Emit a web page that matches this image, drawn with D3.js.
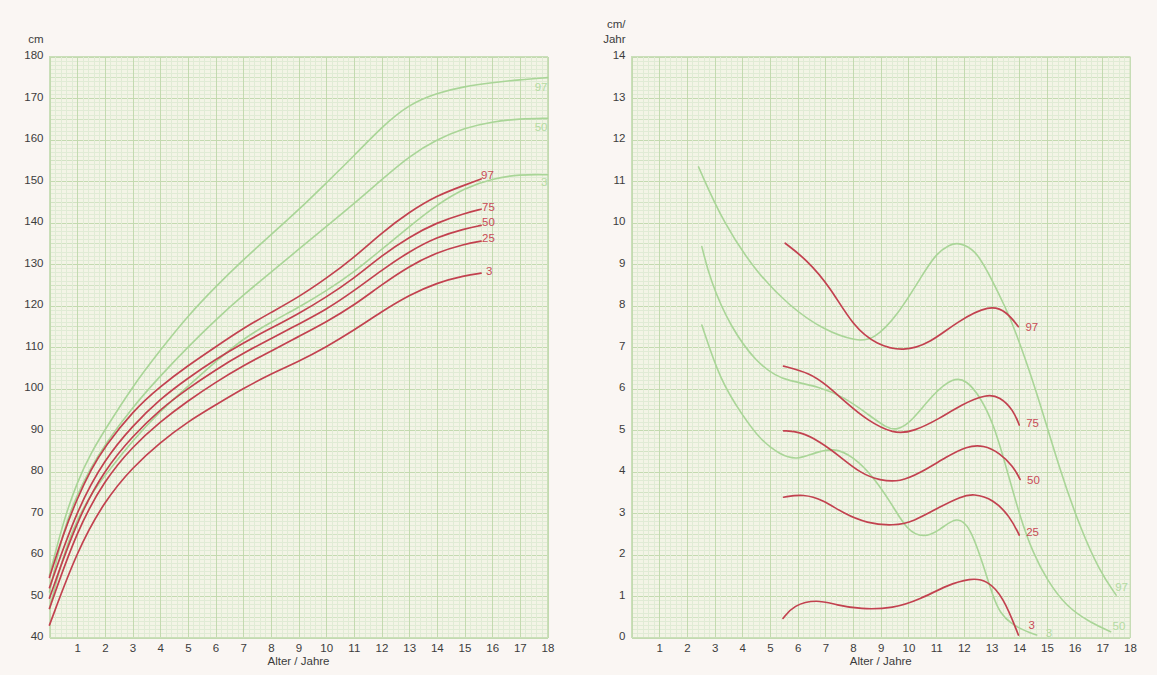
<!DOCTYPE html>
<html>
<head>
<meta charset="utf-8">
<script src="https://cdn.jsdelivr.net/npm/d3@7"></script>
<style>
  html, body { margin: 0; padding: 0; background: #faf6f3; }
  svg { display: block; }
  text { font-family: "Liberation Sans", Arial, sans-serif; }
</style>
</head>
<body>
<svg id="chart" width="1157" height="675"></svg>
<script>
// ---- Körperhöhe (cm) nach Alter (Jahre) ----
// Referenzperzentilen (grün)
const heightRef97 = [[0,55],[0.5,68],[1,77.5],[1.5,84.5],[2,90],[3,100.5],[4,109.2],[5,117.5],[6,124.5],[7,131],[8,137],[9,143],[10,149.5],[11,156],[12,163],[13,168.5],[14,171.2],[15,172.8],[16,173.7],[17,174.4],[18,174.9]];
const heightRef50 = [[0,51],[0.5,66],[1,74.5],[1.5,81],[2,86.5],[3,95.5],[4,103],[5,110],[6,116.5],[7,122.5],[8,128],[9,133.5],[10,139],[11,144.5],[12,150.3],[13,156],[14,160],[15,162.8],[16,164.3],[17,165],[18,165.1]];
const heightRef3  = [[0,47],[0.5,60],[1,68.5],[1.5,74.5],[2,79],[3,87.5],[4,94.5],[5,100.5],[6,106.5],[7,112],[8,116],[9,119.5],[10,123.5],[11,128],[12,133.5],[13,139],[14,144.3],[15,148.3],[16,150.6],[17,151.6],[18,151.5]];
// Perzentilen der Patientengruppe (rot)
const height97 = [[0,54.5],[0.5,65],[1,73.5],[1.5,80.5],[2,86],[3,94.5],[4,100.5],[5,105.5],[6,110],[7,114.5],[8,118.3],[9,122],[10,126.5],[11,131.5],[12,137.5],[13,142.5],[14,146.5],[15,149],[15.6,150.5]];
const height75 = [[0,52],[1,71],[2,83],[3,91],[4,97.5],[5,102.5],[6,107],[7,111],[8,114.5],[9,118],[10,122],[11,126.5],[12,132],[13,136.5],[14,140],[15,142.2],[15.6,143.2]];
const height50 = [[0,49.5],[1,68.5],[2,80.5],[3,88.5],[4,95],[5,100],[6,104.5],[7,108.5],[8,112],[9,115.5],[10,119],[11,123.5],[12,128.5],[13,133],[14,136.5],[15,138.5],[15.6,139.3]];
const height25 = [[0,47],[1,66],[2,78],[3,86],[4,92],[5,97],[6,101.5],[7,105.5],[8,109],[9,112.5],[10,116],[11,120],[12,125],[13,129.5],[14,132.8],[15,134.8],[15.6,135.5]];
const height3  = [[0,43],[1,61],[2,73],[3,81],[4,87],[5,92],[6,96],[7,100],[8,103.5],[9,106.5],[10,110],[11,114],[12,118.5],[13,122.5],[14,125.5],[15,127.2],[15.6,127.8]];

// ---- Wachstumsgeschwindigkeit (cm/Jahr) nach Alter ----
const velRef97 = [[2.42,11.34],[3.32,9.98],[4.53,8.78],[5.73,7.97],[6.93,7.41],[8.14,7.13],[8.74,7.18],[9.58,7.73],[10.54,8.78],[11.0,9.25],[11.5,9.47],[11.75,9.5],[12.0,9.47],[12.47,9.3],[13.07,8.55],[13.5,7.95],[13.8,7.5],[14.6,6.0],[15.48,4.0],[16.2,2.65],[16.9,1.6],[17.5,1.02]];
const velRef50 = [[2.54,9.42],[2.84,8.61],[3.56,7.49],[4.53,6.61],[5.25,6.3],[5.6,6.2],[6.81,6.04],[7.65,5.8],[8.5,5.4],[9.22,5.04],[9.58,5.0],[10.06,5.16],[10.9,5.88],[11.62,6.27],[12.1,6.2],[12.59,5.8],[13.07,5.16],[13.55,4.06],[14.03,2.9],[14.5,2.03],[15.0,1.39],[15.7,0.74],[16.6,0.35],[17.3,0.14]];
const velRef3  = [[2.54,7.53],[3.2,6.2],[4.0,5.36],[4.65,4.76],[5.37,4.4],[5.97,4.28],[6.57,4.44],[7.29,4.58],[8.01,4.36],[8.74,3.87],[9.46,3.15],[9.94,2.59],[10.54,2.39],[11.14,2.59],[11.75,2.93],[12.23,2.67],[12.7,1.75],[13.07,0.95],[13.31,0.6],[13.67,0.34],[14.27,0.14],[14.63,0.06]];
const vel97 = [[5.55,9.5],[6.33,9.1],[7.17,8.45],[8.01,7.49],[8.86,7.05],[9.82,6.89],[10.78,7.09],[11.75,7.61],[12.95,8.03],[13.55,7.85],[13.97,7.49]];
const vel75 = [[5.49,6.54],[6.45,6.37],[7.05,6.08],[7.78,5.64],[8.5,5.24],[9.46,4.9],[10.18,4.96],[11.14,5.28],[11.87,5.6],[12.83,5.87],[13.3,5.8],[13.79,5.48],[14.0,5.12]];
const vel50 = [[5.49,4.98],[6.09,4.96],[6.81,4.72],[7.53,4.36],[8.26,3.96],[8.98,3.78],[9.7,3.75],[10.42,3.96],[11.39,4.36],[12.1,4.61],[12.71,4.64],[13.31,4.44],[13.79,4.12],[14.03,3.81]];
const vel25 = [[5.49,3.38],[6.21,3.46],[6.93,3.31],[7.65,2.99],[8.5,2.75],[9.46,2.69],[10.18,2.79],[11.14,3.15],[11.87,3.39],[12.35,3.47],[13.07,3.33],[13.67,2.91],[14.0,2.47]];
const vel3  = [[5.47,0.46],[5.85,0.78],[6.69,0.92],[7.42,0.78],[8.26,0.68],[9.46,0.70],[10.42,0.92],[11.39,1.26],[12.23,1.43],[12.83,1.39],[13.43,0.98],[13.97,0.06]];

// Achsenbeschriftung
const ageTicks = [1,2,3,4,5,6,7,8,9,10,11,12,13,14,15,16,17,18];
const heightTicks = [40,50,60,70,80,90,100,110,120,130,140,150,160,170,180];
const velTicks = [0,1,2,3,4,5,6,7,8,9,10,11,12,13,14];
const xTitle = "Alter / Jahre";

const svg = d3.select("#chart");
const GREEN = "#a9d597", RED = "#c2414f";
const GREEN_TXT = "#b4dba3", RED_TXT = "#c84b57";

function panel(opts) {
  const { x, y, yMinor, yMid, yMajor, xSub } = opts;
  const g = svg.append("g");
  const [x0, x1] = x.range(), [y0, y1] = y.range();

  g.append("rect").attr("x", x0).attr("y", y1).attr("width", x1 - x0).attr("height", y0 - y1)
    .attr("fill", "#f3f4e6");

  // Millimeterraster
  const grid = g.append("g").attr("shape-rendering", "crispEdges");
  const [d0, d1] = y.domain();
  const nY = Math.round((d1 - d0) / yMinor);
  for (let i = 0; i <= nY; i++) {
    const v = d0 + i * yMinor;
    const major = Math.abs(v / yMajor - Math.round(v / yMajor)) < 1e-6;
    const mid = Math.abs(v / yMid - Math.round(v / yMid)) < 1e-6;
    grid.append("line").attr("x1", x0).attr("x2", x1)
      .attr("y1", Math.round(y(v)) + 0.5).attr("y2", Math.round(y(v)) + 0.5)
      .attr("stroke", major ? "#c3dab0" : mid ? "#d2e3c4" : "#e0ebd5")
      .attr("stroke-width", 1);
  }
  const nX = 18 * xSub;
  for (let i = 0; i <= nX; i++) {
    const v = i / xSub;
    const major = i % xSub === 0;
    grid.append("line").attr("y1", y1).attr("y2", y0)
      .attr("x1", Math.round(x(v)) + 0.5).attr("x2", Math.round(x(v)) + 0.5)
      .attr("stroke", major ? "#c3dab0" : "#e0ebd5")
      .attr("stroke-width", 1);
  }
  g.append("rect").attr("x", x0).attr("y", y1).attr("width", x1 - x0).attr("height", y0 - y1)
    .attr("fill", "none").attr("stroke", "#cadfb9").attr("stroke-width", 1);

  // Achsen
  const ya = g.append("g").attr("transform", `translate(${x0},0)`)
    .call(d3.axisLeft(y).tickValues(opts.yTicks).tickSize(0).tickPadding(6).tickFormat(d3.format("d")));
  ya.select(".domain").remove();
  ya.selectAll("text").attr("font-size", 11.5).attr("fill", "#3c3c3c").attr("dy", "0.2em");

  const xa = g.append("g").attr("transform", `translate(0,${y0})`)
    .call(d3.axisBottom(x).tickValues(ageTicks).tickSize(0).tickPadding(6).tickFormat(d3.format("d")));
  xa.select(".domain").remove();
  xa.selectAll("text").attr("font-size", 11.5).attr("fill", "#3c3c3c");

  g.append("text").attr("x", (x0 + x1) / 2).attr("y", y0 + 27).attr("text-anchor", "middle")
    .attr("font-size", 11.5).attr("fill", "#3c3c3c").text(xTitle);

  opts.unit.forEach((t, i) => {
    g.append("text").attr("x", x0 - 6).attr("y", y1 - 14 - (opts.unit.length - 1 - i) * 15)
      .attr("text-anchor", "end").attr("font-size", 11.5).attr("fill", "#3c3c3c").text(t);
  });

  const line = d3.line().x(d => x(d[0])).y(d => y(d[1])).curve(d3.curveBasis);
  const curves = g.append("g").attr("fill", "none").attr("stroke-linecap", "round");
  opts.series.forEach(s => {
    curves.append("path").datum(s.data).attr("d", line)
      .attr("stroke", s.color).attr("stroke-width", s.width);
    const last = s.data[s.data.length - 1];
    g.append("text")
      .attr("x", x(last[0]) + s.lab[0]).attr("y", y(last[1]) + s.lab[1])
      .attr("dy", "0.35em").attr("text-anchor", s.anchor || "start")
      .attr("font-size", 11.5).attr("fill", s.text).text(s.name);
  });
}

// Linkes Diagramm: Körperhöhe
panel({
  x: d3.scaleLinear([0, 18], [49.5, 547.5]),
  y: d3.scaleLinear([40, 180], [637.5, 56.5]),
  yMinor: 1, yMid: 5, yMajor: 10, xSub: 5,
  yTicks: heightTicks,
  unit: ["cm"],
  series: [
    { name: "97", data: heightRef97, color: GREEN, text: GREEN_TXT, width: 1.6, lab: [0, 9], anchor: "end" },
    { name: "50", data: heightRef50, color: GREEN, text: GREEN_TXT, width: 1.6, lab: [0, 9], anchor: "end" },
    { name: "3",  data: heightRef3,  color: GREEN, text: GREEN_TXT, width: 1.6, lab: [0, 7], anchor: "end" },
    { name: "97", data: height97, color: RED, text: RED_TXT, width: 1.7, lab: [0, -4] },
    { name: "75", data: height75, color: RED, text: RED_TXT, width: 1.7, lab: [1, -2] },
    { name: "50", data: height50, color: RED, text: RED_TXT, width: 1.7, lab: [1, -3] },
    { name: "25", data: height25, color: RED, text: RED_TXT, width: 1.7, lab: [1, -3] },
    { name: "3",  data: height3,  color: RED, text: RED_TXT, width: 1.7, lab: [5, -2] }
  ]
});

// Rechtes Diagramm: Wachstumsgeschwindigkeit
panel({
  x: d3.scaleLinear([0, 18], [631.5, 1130]),
  y: d3.scaleLinear([0, 14], [637.5, 56.5]),
  yMinor: 0.1, yMid: 0.5, yMajor: 1, xSub: 5,
  yTicks: velTicks,
  unit: ["cm/", "Jahr"],
  series: [
    { name: "97", data: velRef97, color: GREEN, text: GREEN_TXT, width: 1.6, lab: [-1, -8] },
    { name: "50", data: velRef50, color: GREEN, text: GREEN_TXT, width: 1.6, lab: [2, -6] },
    { name: "3",  data: velRef3,  color: GREEN, text: GREEN_TXT, width: 1.6, lab: [9, -2] },
    { name: "97", data: vel97, color: RED, text: RED_TXT, width: 1.7, lab: [7, 0] },
    { name: "75", data: vel75, color: RED, text: RED_TXT, width: 1.7, lab: [7, -2] },
    { name: "50", data: vel50, color: RED, text: RED_TXT, width: 1.7, lab: [7, 1] },
    { name: "25", data: vel25, color: RED, text: RED_TXT, width: 1.7, lab: [7, -3] },
    { name: "3",  data: vel3,  color: RED, text: RED_TXT, width: 1.7, lab: [10, -10] }
  ]
});
</script>
</body>
</html>
